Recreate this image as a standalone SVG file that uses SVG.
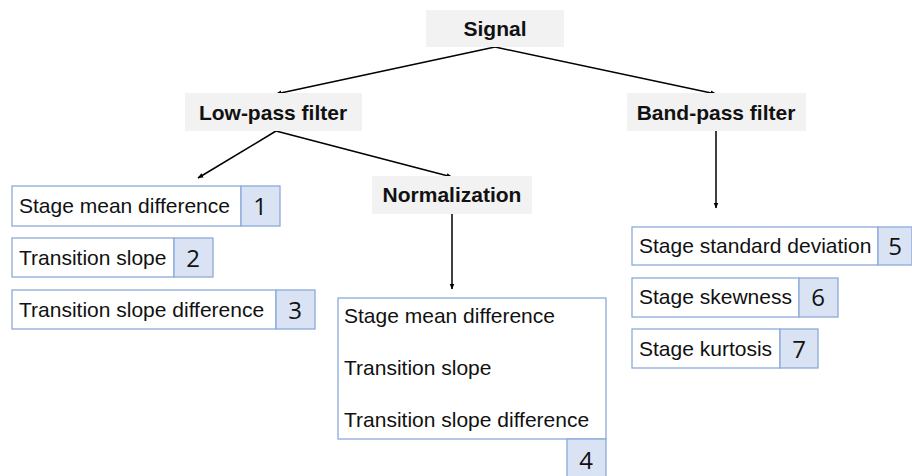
<svg xmlns="http://www.w3.org/2000/svg" width="912" height="476" viewBox="0 0 912 476">
<defs>
<marker id="ah" viewBox="0 0 10 10" refX="9" refY="5" markerWidth="6" markerHeight="6" orient="auto" markerUnits="userSpaceOnUse">
<path d="M0,1 L10,5 L0,9 z" fill="#000"/>
</marker>
<style>
.title{fill:#f2f2f2;stroke:none}
.tt{font-family:"Liberation Sans",Arial,sans-serif;font-weight:bold;font-size:21px;fill:#111;text-anchor:middle}
.box{fill:#fff;stroke:#8eaadb;stroke-width:1.3}
.cell{fill:#dae3f3;stroke:#8eaadb;stroke-width:1.3}
.lbl{font-family:"Liberation Sans",Arial,sans-serif;font-size:21px;fill:#111}
.num{font-family:"Open Sans","Liberation Sans",sans-serif;font-size:24px;fill:#111;text-anchor:middle}
.conn{stroke:#000;stroke-width:1.5;fill:none;marker-end:url(#ah)}
</style>
</defs>
<rect width="912" height="476" fill="#fff"/>
<g id="connectors">
<line class="conn" x1="495" y1="47" x2="276" y2="94"/>
<line class="conn" x1="495" y1="47" x2="716" y2="94"/>
<line class="conn" x1="276" y1="131" x2="198" y2="178"/>
<line class="conn" x1="276" y1="131" x2="452" y2="177"/>
<line class="conn" x1="452" y1="214" x2="452" y2="289"/>
<line class="conn" x1="716" y1="131" x2="716" y2="208"/>
</g>
<g id="signal">
<rect class="title" x="426" y="10" width="138" height="37"/>
<text class="tt" x="495" y="36">Signal</text>
</g>
<g id="lowpass">
<rect class="title" x="185" y="93" width="177" height="38"/>
<text class="tt" x="273" y="120">Low-pass filter</text>
</g>
<g id="bandpass">
<rect class="title" x="627" y="93" width="179" height="38"/>
<text class="tt" x="716" y="120">Band-pass filter</text>
</g>
<g id="normalization">
<rect class="title" x="372" y="176" width="160" height="38"/>
<text class="tt" x="452" y="202">Normalization</text>
</g>
<g id="f1">
<rect class="box" x="12" y="186" width="229" height="40"/>
<rect class="cell" x="241" y="186" width="39" height="40"/>
<text class="lbl" x="19" y="213">Stage mean difference</text>
<text class="num" x="260" y="215">1</text>
</g>
<g id="f2">
<rect class="box" x="12" y="238" width="162" height="39"/>
<rect class="cell" x="174" y="238" width="39" height="39"/>
<text class="lbl" x="19" y="265">Transition slope</text>
<text class="num" x="193" y="267">2</text>
</g>
<g id="f3">
<rect class="box" x="12" y="290" width="264" height="39"/>
<rect class="cell" x="276" y="290" width="39" height="39"/>
<text class="lbl" x="19" y="317">Transition slope difference</text>
<text class="num" x="295" y="319">3</text>
</g>
<g id="f4">
<rect class="box" x="338" y="298" width="268" height="141"/>
<rect class="cell" x="567" y="439" width="39" height="40"/>
<text class="lbl" x="344" y="323">Stage mean difference</text>
<text class="lbl" x="344" y="375">Transition slope</text>
<text class="lbl" x="344" y="427">Transition slope difference</text>
<text class="num" x="586" y="469">4</text>
</g>
<g id="f5">
<rect class="box" x="632" y="227" width="246" height="38"/>
<rect class="cell" x="878" y="227" width="34" height="38"/>
<text class="lbl" x="639" y="253">Stage standard deviation</text>
<text class="num" x="895" y="255">5</text>
</g>
<g id="f6">
<rect class="box" x="632" y="278" width="167" height="39"/>
<rect class="cell" x="799" y="278" width="39" height="39"/>
<text class="lbl" x="639" y="304">Stage skewness</text>
<text class="num" x="818" y="306">6</text>
</g>
<g id="f7">
<rect class="box" x="632" y="329" width="148" height="39"/>
<rect class="cell" x="780" y="329" width="38" height="39"/>
<text class="lbl" x="639" y="356">Stage kurtosis</text>
<text class="num" x="799" y="358">7</text>
</g>
</svg>
